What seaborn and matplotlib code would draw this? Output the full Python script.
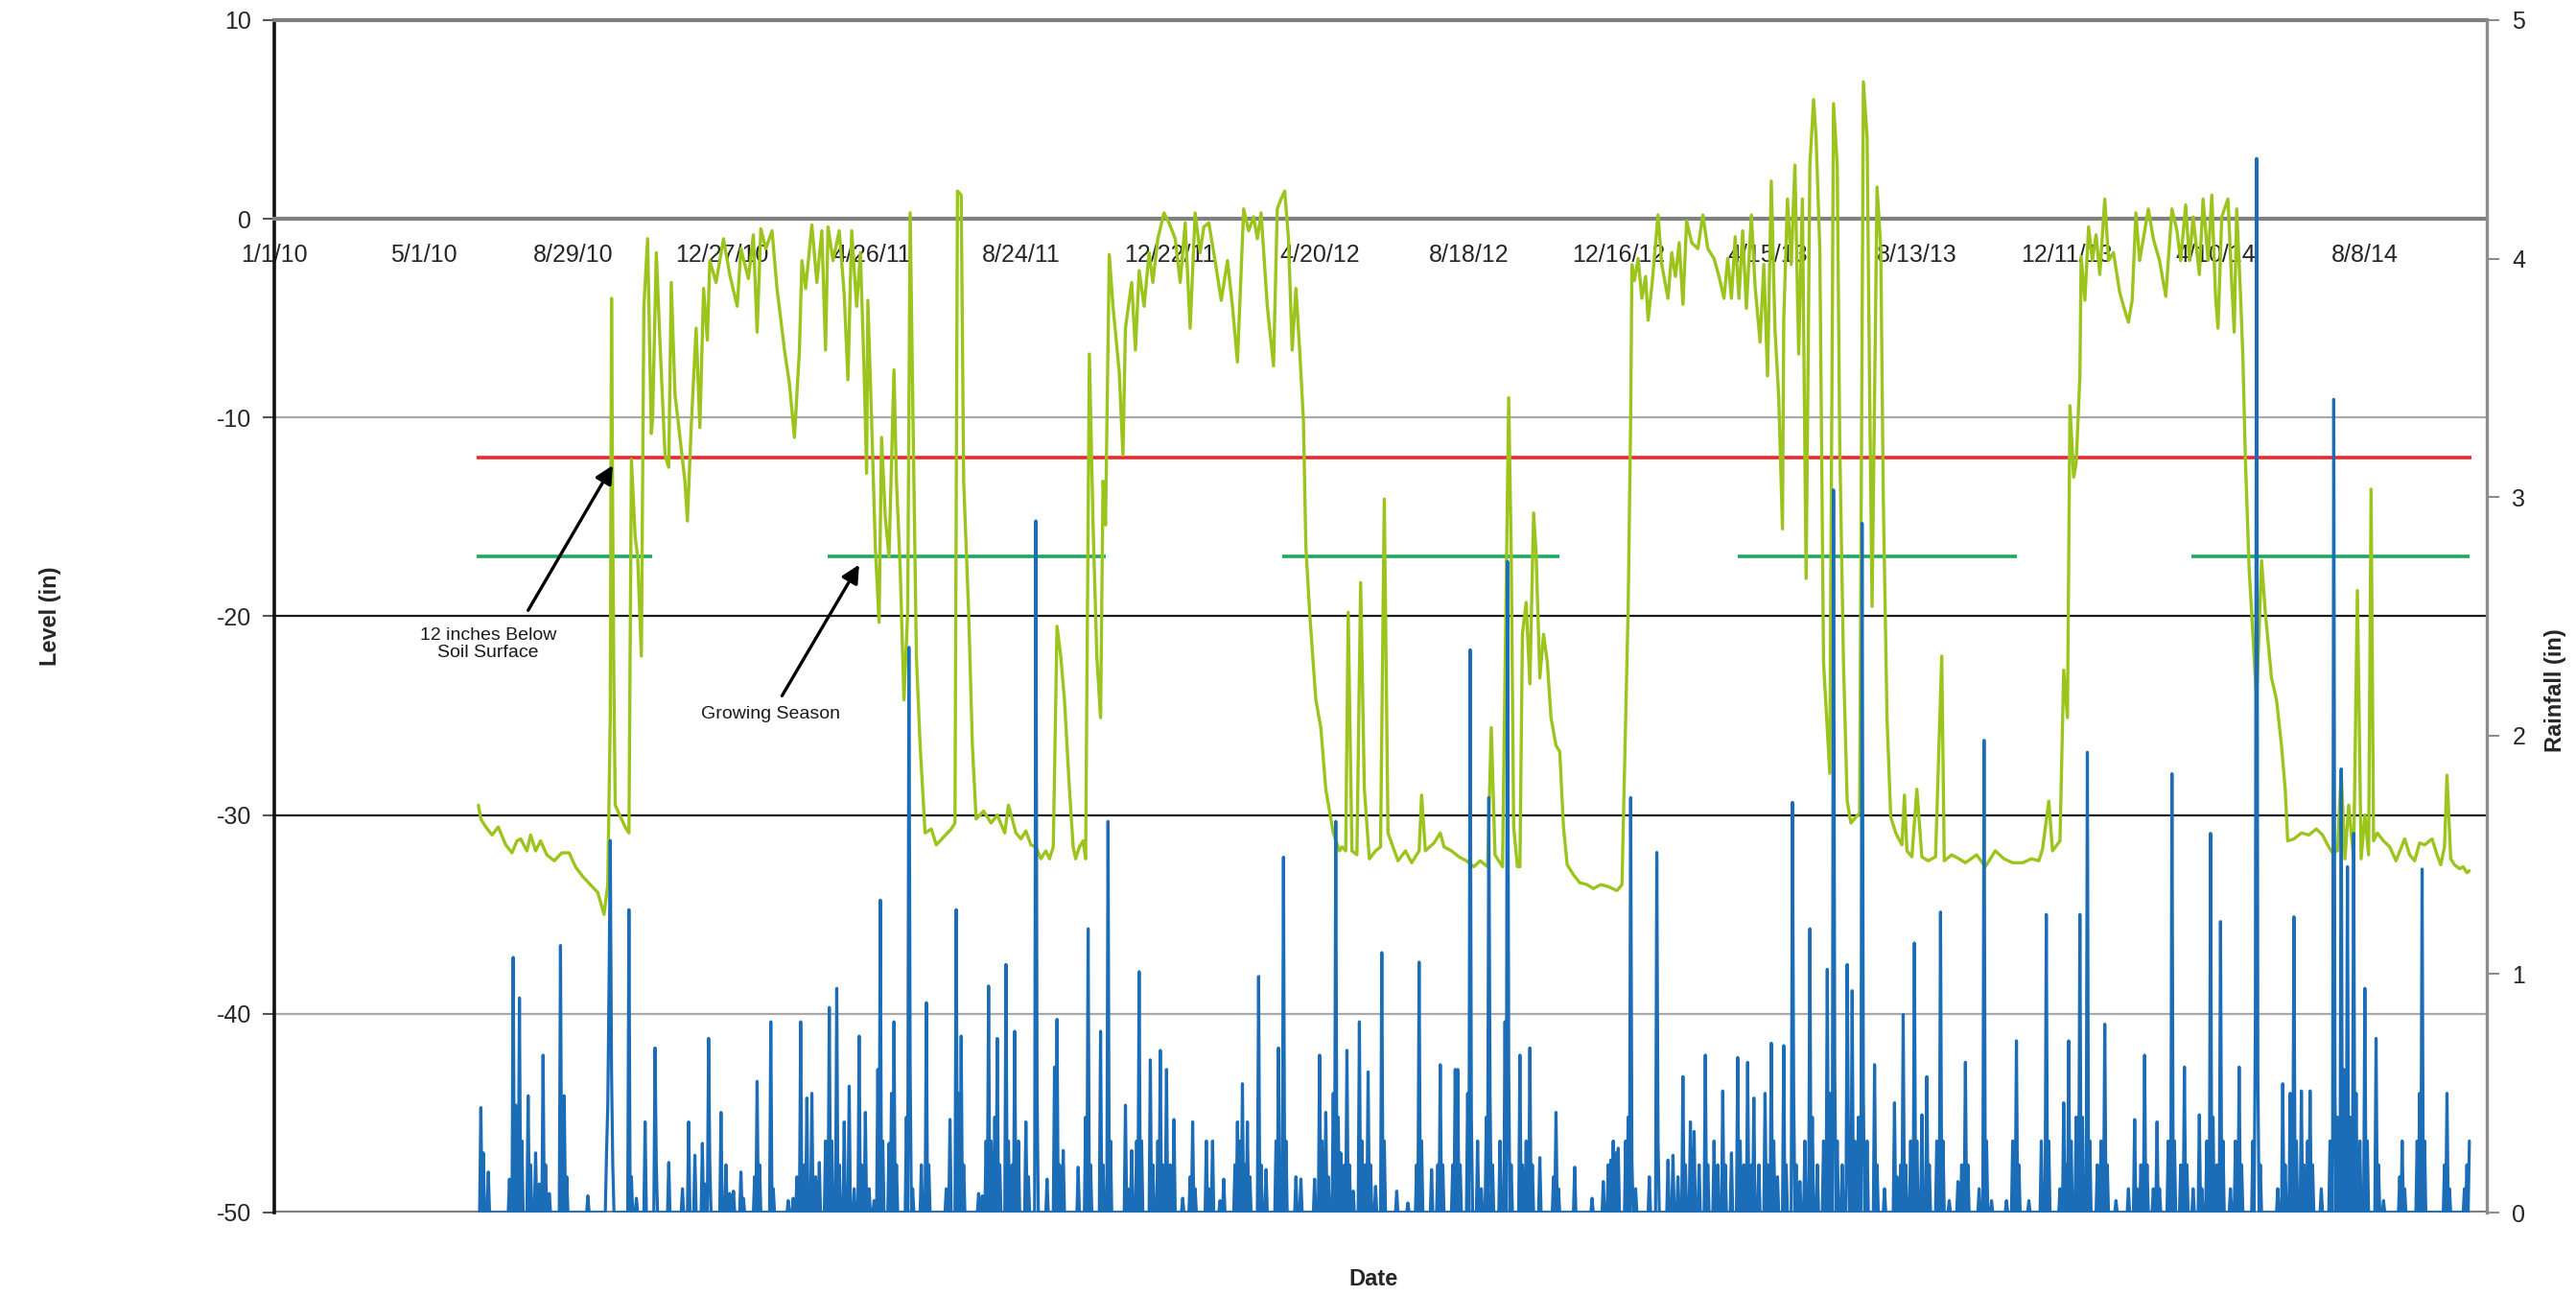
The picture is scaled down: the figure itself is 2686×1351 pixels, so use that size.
import numpy as np
import pandas as pd
import matplotlib
matplotlib.use("Agg")
import matplotlib.pyplot as plt
import seaborn as sns

# ---------------- data ----------------
START = pd.Timestamp("2010-01-01")
X_END = "2014-11-14"

x_tick_labels = ["1/1/10", "5/1/10", "8/29/10", "12/27/10", "4/26/11", "8/24/11",
                 "12/22/11", "4/20/12", "8/18/12", "12/16/12", "4/15/13", "8/13/13",
                 "12/11/13", "4/10/14", "8/8/14"]
level_ticks = [-50, -40, -30, -20, -10, 0, 10]
rain_ticks = [0, 1, 2, 3, 4, 5]

# water level, days since 1/1/10 and inches
level_day = [164, 166, 170, 175, 180, 186, 191, 195, 198, 203, 206, 210, 214, 219, 225, 231, 237, 242, 248, 254,
             260, 265, 268, 270, 271, 272, 273, 274, 279, 282, 285, 287, 290, 292, 295, 297, 300, 303, 304, 307,
             310, 314, 317, 319, 322, 326, 330, 332, 335, 339, 342, 345, 348, 350, 355, 361, 366, 372, 375, 381,
             385, 388, 391, 395, 400, 404, 410, 414, 418, 422, 424, 427, 432, 436, 440, 443,
             445, 449, 454, 458, 461, 464, 468, 471, 474, 476, 477, 480, 483, 486, 488, 491, 494, 498, 500, 503,
             506, 509, 511, 513, 516, 519, 523, 528, 532, 538, 544, 547, 549, 552, 554, 558, 561, 564, 570, 576,
             581, 587, 590, 596, 600, 604, 608, 612, 616, 620, 623, 626, 629, 632, 635, 639, 642, 644, 647, 650,
             652, 655, 658, 661, 664, 666, 668, 671, 674, 679, 682, 684, 689, 692, 695, 699, 703, 706, 710, 715,
             719, 724, 728, 732, 736, 740, 744, 747, 751, 756, 761, 766, 770, 774, 779, 783, 787, 790, 793, 798,
             803, 806, 809, 812, 815, 818, 821, 824, 827, 829, 832, 837, 841, 845, 851, 856, 858, 861, 863, 866,
             870, 873, 876, 880, 885, 889, 892, 895,
             903, 909, 914, 920, 922, 925, 932, 937, 940, 946, 952, 958, 964, 969, 975, 978, 981, 987, 992, 994,
             996, 999, 1001, 1003, 1006, 1009, 1012, 1014, 1017, 1020, 1023, 1026, 1030, 1033, 1036, 1039, 1044,
             1049, 1055, 1060, 1066, 1072, 1079, 1083, 1086, 1088, 1090, 1091,
             1093, 1096, 1099, 1102, 1104, 1107, 1112, 1115, 1120, 1123, 1126, 1129, 1132, 1135, 1139, 1144, 1148,
             1152, 1157, 1161, 1165, 1168, 1171, 1174, 1177, 1180, 1183, 1187, 1190, 1194, 1197, 1200, 1203, 1206,
             1209, 1212, 1213, 1216, 1219, 1222, 1225, 1228, 1231, 1234, 1237, 1239, 1242, 1245, 1250, 1253, 1256,
             1258, 1261, 1264, 1267, 1271, 1274, 1277, 1280, 1282, 1284, 1288, 1291, 1293, 1296, 1299, 1303, 1308,
             1310, 1312, 1316, 1320, 1324, 1329, 1335, 1340, 1342,
             1348, 1354, 1359, 1368, 1375, 1383, 1390, 1397, 1405, 1412, 1418, 1421, 1426, 1429, 1435, 1438, 1441,
             1443, 1446, 1448, 1451, 1452, 1455, 1458, 1461, 1464, 1467, 1471, 1474, 1478, 1483, 1487, 1490, 1493,
             1496, 1499, 1502, 1506, 1510, 1515, 1520, 1525, 1529, 1532, 1536, 1539, 1542, 1547, 1550, 1554, 1557,
             1560, 1562, 1565, 1570, 1573, 1575, 1577, 1580, 1582, 1584, 1587, 1590, 1593, 1597, 1600, 1605, 1609,
             1613, 1616, 1618, 1623, 1629, 1635, 1641, 1646, 1650, 1654, 1658, 1661, 1664, 1667, 1671, 1674, 1677,
             1680, 1683, 1685, 1687, 1690, 1695, 1700, 1705, 1712, 1716, 1720, 1724, 1728, 1734, 1738, 1741, 1744,
             1746, 1749, 1752, 1756, 1759, 1762, 1764]
level_in = [-29.5, -30.2, -30.6, -31.0, -30.6, -31.5, -31.9, -31.3, -31.2, -31.8, -31.0, -31.8, -31.3, -32.0, -32.3,
            -31.9, -31.9, -32.6, -33.1, -33.5, -33.9, -35.0, -33.5, -25.0, -4.0, -15.4, -24.0, -29.5, -30.2, -30.6,
            -30.9, -12.1, -16.0, -17.0, -22.0, -4.4, -1.0, -10.8, -10.1, -1.7, -6.3, -11.9, -12.5, -3.2, -8.8,
            -11.0, -13.2, -15.2, -10.5, -5.5, -10.5, -3.5, -6.1, -2.1, -3.2, -1.0, -2.8, -4.4, -1.5, -3.0, -0.8,
            -5.7, -0.5, -1.5, -0.6, -3.5, -6.6, -8.3, -11.0, -6.6, -2.1, -3.5, -0.3, -3.2, -0.6, -6.6,
            -0.4, -2.1, -0.6, -3.8, -8.1, -0.6, -4.4, -1.7, -7.7, -12.8, -4.1, -10.1, -16.5, -20.3, -11.0, -15.0,
            -17.0, -7.6, -13.2, -17.6, -24.2, -19.8, 0.3, -8.8, -22.0, -26.5, -30.9, -30.7, -31.5, -31.1, -30.7,
            -30.4, 1.4, 1.2, -13.2, -19.8, -26.5, -30.2, -29.8, -30.4, -30.0, -30.9, -29.5, -30.9, -31.2, -30.8,
            -31.5, -31.6, -32.2, -31.8, -32.2, -31.6, -20.5, -22.0, -24.2, -28.7, -31.6, -32.2, -31.6, -31.3,
            -32.2, -6.8, -15.4, -22.0, -25.1, -13.2, -15.4, -1.8, -4.4, -7.7, -11.9, -5.5, -3.2, -6.6, -2.6,
            -4.4, -1.7, -3.2, -1.0, 0.3, -0.2, -1.0, -3.2, -0.2, -5.5, 0.3, -1.7, -0.4, -0.2, -2.1, -4.1, -2.1,
            -4.4, -7.2, 0.5, -0.6, 0.1, -1.0, 0.3, -4.4, -7.4, 0.5, 1.0, 1.4, -1.0, -6.6, -3.5, -6.6, -10.1,
            -16.5, -19.8, -24.2, -25.6, -28.7, -30.9, -31.8, -31.6, -31.8, -19.8, -31.8, -32.0, -18.3, -28.7,
            -32.2, -31.8, -31.6, -14.1, -30.9,
            -32.3, -31.8, -32.4, -31.8, -29.0, -31.8, -31.4, -30.9, -31.6, -31.8, -32.1, -32.3, -32.6, -32.3,
            -32.6, -25.6, -32.0, -32.6, -9.0, -16.8, -30.6, -32.6, -32.6, -20.9, -19.3, -23.4, -14.8, -16.8,
            -23.1, -20.9, -22.3, -25.1, -26.5, -26.8, -30.6, -32.5, -33.0, -33.4, -33.5, -33.7, -33.5, -33.6,
            -33.8, -33.5, -25.1, -19.5, -10.1, -2.3,
            -3.1, -2.0, -4.0, -2.9, -5.1, -3.4, 0.2, -2.3, -4.0, -1.7, -2.9, -1.2, -4.3, -0.1, -1.2, -1.5, 0.2,
            -1.5, -2.0, -2.9, -4.0, -2.0, -4.0, -0.9, -4.0, -0.6, -4.5, 0.2, -3.4, -6.2, -2.3, -7.9, 1.9, -5.6,
            -9.0, -15.6, -5.1, 1.0, -2.3, 2.7, -6.8, 1.0, -18.1, 2.7, 6.0, 4.1, -1.5, -22.3, -27.9, 5.8, 2.7,
            -11.2, -22.3, -29.3, -30.4, -30.1, -29.9, 6.9, 4.1, -8.4, -19.5, 1.6, -1.5, -14.0, -25.1, -30.1,
            -30.9, -31.5, -29.0, -31.8, -32.1, -28.7, -32.1, -32.3, -32.1, -22.0, -32.3,
            -32.0, -32.2, -32.4, -32.0, -32.6, -31.8, -32.2, -32.4, -32.4, -32.2, -32.3, -31.7, -29.3, -31.8,
            -31.3, -22.7, -25.1, -9.4, -13.0, -12.3, -7.9, -1.9, -4.1, -0.4, -2.1, -0.8, -2.8, 1.0, -2.1, -1.7,
            -3.7, -4.6, -5.2, -4.1, 0.3, -2.1, -1.0, 0.5, -1.0, -2.1, -3.9, 0.5, -0.6, -2.1, 0.7, -2.1, 0.1,
            -2.8, 1.0, -2.1, 1.2, -3.9, -5.5, 0.1, 1.0, -3.2, -5.7, 0.5, -3.7, -7.0, -12.1, -17.6, -20.9, -24.2,
            -17.2, -19.8, -23.1, -24.2, -26.5, -28.7, -31.3, -31.2, -30.9, -31.0, -30.7, -31.0, -31.5, -31.9,
            -31.8, -27.8, -32.2, -29.5, -32.2, -18.7, -32.2, -30.0, -32.0, -13.6, -31.3, -30.9, -31.3, -31.6,
            -32.3, -31.2, -32.0, -32.3, -31.4, -31.5, -31.2, -32.0, -32.5, -31.6, -28.0, -32.2, -32.5, -32.7,
            -32.6, -32.9, -32.8]

# daily rainfall, days since 1/1/10 with rain (inches); other days are 0
rain_day = [166, 168, 172, 189, 192, 194, 197, 199, 204, 206, 210, 213, 216, 218, 221, 230, 233, 235, 252, 267,
            268, 269, 270, 271, 272, 285, 287, 291, 298, 306, 307, 317, 328, 333, 338, 344, 346, 349, 350, 359,
            363, 366, 369, 375, 377, 386, 388, 390, 399, 401, 413, 417, 420, 423, 426, 428, 432, 435, 438, 443,
            446, 448, 452, 454, 458, 462, 466, 470, 472, 475, 478, 482, 485, 487, 489, 494, 496, 498, 500, 508,
            510, 511, 513, 520, 524, 526, 540, 543, 548, 550, 552, 554, 566, 569, 572, 574, 576, 579, 581, 583,
            588, 590, 593, 595, 598, 604, 606, 612, 613, 621, 627, 629, 631, 634, 646, 652, 654, 656, 664, 666,
            670, 672, 684, 686, 689, 693, 695, 697, 704, 706, 710, 712, 714, 717, 720, 723, 730, 736, 738, 740,
            749, 751, 754, 760, 763, 772, 774, 776, 778, 780, 782, 784, 791, 793, 797, 805, 807, 809, 811, 813,
            821, 825, 836, 840, 842, 845, 847, 851, 853, 855, 857, 860, 862, 864, 867, 872, 874, 876, 879, 881,
            885, 890, 892, 902, 911, 918, 920, 922, 930, 935, 937, 939, 947, 949, 951, 953, 959, 961, 962, 967,
            970, 974, 976, 977, 979, 985, 989, 991, 992, 994, 1001, 1003, 1006, 1009, 1011, 1017, 1028, 1030,
            1032, 1045, 1059, 1068, 1072, 1074, 1076, 1078, 1080, 1086, 1088, 1090, 1091, 1094, 1105, 1111, 1112,
            1120, 1124, 1128, 1132, 1134, 1138, 1141, 1145, 1150, 1152, 1157, 1160, 1164, 1166, 1171, 1176, 1178,
            1181, 1184, 1187, 1189, 1193, 1198, 1200, 1203, 1205, 1208, 1213, 1215, 1220, 1221, 1223, 1226, 1230,
            1234, 1236, 1240, 1245, 1248, 1250, 1253, 1254, 1256, 1260, 1264, 1265, 1268, 1270, 1273, 1276, 1277,
            1280, 1286, 1288, 1294, 1302, 1304, 1307, 1309, 1311, 1315, 1318, 1320, 1324, 1328, 1330, 1336, 1339,
            1341, 1346, 1353, 1356, 1359, 1361, 1370, 1374, 1376, 1380, 1392, 1397, 1400, 1402, 1410, 1420, 1424,
            1426, 1435, 1438, 1440, 1442, 1444, 1448, 1451, 1453, 1457, 1459, 1465, 1468, 1471, 1473, 1480, 1490,
            1495, 1497, 1500, 1503, 1505, 1510, 1513, 1515, 1522, 1525, 1527, 1532, 1535, 1537, 1542, 1547, 1549,
            1553, 1556, 1558, 1561, 1564, 1566, 1572, 1576, 1579, 1581, 1590, 1592, 1593, 1594, 1596, 1610, 1614,
            1616, 1620, 1623, 1625, 1629, 1631, 1634, 1636, 1638, 1645, 1652, 1655, 1656, 1658, 1661, 1663, 1666,
            1668, 1671, 1673, 1676, 1680, 1682, 1689, 1691, 1695, 1708, 1710, 1712, 1722, 1724, 1726, 1728, 1744,
            1746, 1748, 1760, 1762, 1764]
rain_in = [0.44, 0.25, 0.17, 0.14, 1.07, 0.45, 0.90, 0.30, 0.49, 0.20, 0.25, 0.12, 0.66, 0.20, 0.08, 1.12, 0.49, 0.15,
           0.07, 0.25, 0.45, 0.95, 1.56, 0.60, 0.20, 1.27, 0.15, 0.06, 0.38, 0.69, 0.20, 0.21, 0.10, 0.38, 0.24, 0.29,
           0.12, 0.73, 0.20, 0.42, 0.20, 0.08, 0.09, 0.17, 0.06, 0.15, 0.55, 0.20, 0.80, 0.10, 0.05, 0.06, 0.15, 0.80,
           0.20, 0.48, 0.50, 0.15, 0.21, 0.30, 0.86, 0.30, 0.94, 0.20, 0.38, 0.53, 0.10, 0.74, 0.20, 0.42, 0.10, 0.05,
           0.60, 1.31, 0.30, 0.29, 0.50, 0.80, 0.20, 0.40, 2.37, 0.60, 0.10, 0.20, 0.88, 0.20, 0.10, 0.39, 1.27, 0.50,
           0.74, 0.20, 0.08, 0.07, 0.30, 0.95, 0.30, 0.40, 0.73, 0.20, 1.04, 0.30, 0.20, 0.76, 0.30, 0.38, 0.15, 2.90,
           0.50, 0.14, 0.61, 0.81, 0.20, 0.26, 0.19, 0.40, 1.19, 0.20, 0.76, 0.20, 1.64, 0.30, 0.45, 0.10, 0.26, 0.30,
           1.01, 0.30, 0.64, 0.20, 0.30, 0.68, 0.20, 0.60, 0.20, 0.39, 0.06, 0.15, 0.38, 0.10, 0.30, 0.10, 0.30, 0.05,
           0.14, 0.20, 0.38, 0.30, 0.54, 0.20, 0.38, 0.15, 0.99, 0.20, 0.18, 0.30, 0.69, 0.20, 1.49, 0.30, 0.15, 0.14,
           0.14, 0.66, 0.30, 0.42, 0.15, 0.50, 1.64, 0.40, 0.25, 0.20, 0.68, 0.20, 0.09, 0.80, 0.30, 0.20, 0.59, 0.20,
           0.11, 1.09, 0.30, 0.09, 0.04, 0.20, 1.05, 0.30, 0.18, 0.20, 0.62, 0.20, 0.20, 0.60, 0.60, 0.20, 0.50, 2.36,
           0.40, 0.30, 0.10, 0.40, 1.74, 0.50, 0.20, 0.30, 0.80, 2.73, 0.60, 0.20, 0.66, 0.20, 0.30, 0.69, 0.20, 0.23,
           0.15, 0.42, 0.10, 0.19, 0.06, 0.13, 0.20, 0.22, 0.30, 0.25, 0.27, 0.30, 0.40, 1.74, 0.22, 0.10, 0.15, 1.51,
           0.30, 0.22, 0.24, 0.15, 0.57, 0.20, 0.38, 0.34, 0.20, 0.66, 0.20, 0.30, 0.20, 0.51, 0.20, 0.25, 0.65, 0.30,
           0.20, 0.63, 0.20, 0.48, 0.20, 0.50, 0.20, 0.71, 0.30, 0.15, 0.70, 0.20, 1.72, 0.50, 0.20, 0.13, 0.30, 1.19,
           0.40, 0.20, 0.30, 1.02, 0.50, 3.03, 0.60, 0.30, 0.20, 1.04, 0.30, 0.93, 0.30, 0.40, 2.89, 0.50, 0.30, 0.62,
           0.20, 0.10, 0.46, 0.15, 0.20, 0.83, 0.20, 0.30, 1.13, 0.30, 0.41, 0.57, 0.20, 0.30, 1.26, 0.30, 0.05, 0.13,
           0.20, 0.63, 0.20, 0.10, 1.98, 0.30, 0.05, 0.05, 0.30, 0.72, 0.20, 0.05, 0.30, 1.25, 0.30, 0.10, 0.46, 0.20,
           0.72, 0.30, 0.40, 1.25, 0.40, 1.93, 0.30, 0.20, 0.30, 0.79, 0.20, 0.05, 0.10, 0.39, 0.10, 0.20, 0.66, 0.20,
           0.10, 0.38, 0.10, 0.30, 1.84, 0.30, 0.20, 0.61, 0.20, 0.10, 0.41, 0.10, 0.30, 1.59, 0.40, 0.20, 1.22, 0.30,
           0.10, 0.30, 0.61, 0.20, 0.30, 0.80, 4.42, 0.60, 0.20, 0.10, 0.54, 0.20, 0.50, 1.24, 0.30, 0.51, 0.20, 0.30,
           0.51, 0.20, 0.10, 0.30, 3.41, 0.50, 0.40, 1.86, 0.60, 1.45, 0.40, 1.59, 0.50, 0.30, 0.94, 0.30, 0.73, 0.20,
           0.05, 0.15, 0.30, 0.10, 0.30, 0.50, 1.44, 0.30, 0.20, 0.50, 0.10, 0.10, 0.20, 0.30]

soil_level_in = -12
soil_start, soil_end = "2010-06-13", "2014-11-02"
growing_level_in = -17
growing_start = ["2010-06-13", "2011-03-22", "2012-03-21", "2013-03-22", "2014-03-22"]
growing_end = ["2010-11-01", "2011-10-31", "2012-10-30", "2013-11-01", "2014-10-31"]

# ---------------- frames ----------------
level_df = pd.DataFrame({"date": START + pd.to_timedelta(level_day, unit="D"), "level": level_in})
rain_lookup = dict(zip(rain_day, rain_in))
all_days = list(range(rain_day[0] - 1, rain_day[-1] + 1))
rain_df = pd.DataFrame({"date": START + pd.to_timedelta(all_days, unit="D"),
                        "rain": [rain_lookup.get(d, 0.0) for d in all_days]})
tick_dates = pd.to_datetime(x_tick_labels, format="%m/%d/%y")

# ---------------- style ----------------
sns.set_theme(style="white")
plt.rcParams["font.family"] = ["Liberation Sans", "DejaVu Sans"]

W, H = 2686, 1351
fig = plt.figure(figsize=(W / 100, H / 100), dpi=100)
L, R, T, B = 286, 2593, 21, 1264
ax = fig.add_axes([L / W, 1 - B / H, (R - L) / W, (B - T) / H])
ax2 = ax.twinx()

LEVEL_C = "#9BC41C"
RAIN_C = "#1C6DB8"
RED_C = "#F0262A"
GROW_C = "#1DAA5E"

# reference lines
for y, c, lw in [(-10, "#A8A8A8", 1.6), (-40, "#A8A8A8", 1.6), (-20, "#1A1A1A", 1.6), (-30, "#1A1A1A", 1.6),
                 (-50, "#7F7F7F", 3.0)]:
    ax.axhline(y, color=c, lw=lw, zorder=1)

ax.hlines(soil_level_in, pd.Timestamp(soil_start), pd.Timestamp(soil_end), color=RED_C, lw=2.6, zorder=2)
ax.hlines([growing_level_in] * len(growing_start), pd.to_datetime(growing_start), pd.to_datetime(growing_end),
          color=GROW_C, lw=2.6, zorder=2)

sns.lineplot(data=level_df, x="date", y="level", ax=ax, color=LEVEL_C, lw=2.4, estimator=None, sort=False,
             zorder=3)
sns.lineplot(data=rain_df, x="date", y="rain", ax=ax2, color=RAIN_C, lw=2.3, estimator=None, sort=False, zorder=3)

# axes limits/ticks
ax.set_xlim(START, pd.Timestamp(X_END))
ax.set_ylim(-50, 10)
ax2.set_ylim(0, 5)
ax.set_yticks(level_ticks)
ax.set_yticklabels([str(v) for v in level_ticks])
ax2.set_yticks(rain_ticks)
ax2.set_yticklabels([str(v) for v in rain_ticks])
ax.set_xticks(tick_dates)
ax.set_xticklabels(x_tick_labels)
ax.set_xlabel("")
ax.set_ylabel("")
ax2.set_xlabel("")
ax2.set_ylabel("")
ax.grid(False)
ax2.grid(False)

ax.spines["bottom"].set_position(("data", 0))
ax.spines["bottom"].set_color("#7F7F7F")
ax.spines["bottom"].set_linewidth(3.0)
ax.spines["top"].set_color("#7F7F7F")
ax.spines["top"].set_linewidth(3.0)
ax.spines["left"].set_color("#111111")
ax.spines["left"].set_linewidth(2.6)
ax.spines["right"].set_visible(False)
for s in ["top", "bottom", "left"]:
    ax2.spines[s].set_visible(False)
ax2.spines["right"].set_color("#8C8C8C")
ax2.spines["right"].set_linewidth(2.4)

TXT = "#262626"
ax.tick_params(axis="x", direction="inout", length=9, width=1.5, color="#555555", labelsize=18,
               labelcolor=TXT, pad=14)
ax.tick_params(axis="y", direction="out", length=9, width=1.5, color="#555555", labelsize=18,
               labelcolor=TXT, pad=8)
ax2.tick_params(axis="y", direction="out", length=9, width=1.5, color="#8C8C8C", labelsize=18,
                labelcolor=TXT, pad=10)

# annotations
def day(d):
    return START + pd.Timedelta(days=d)

arrow = dict(arrowstyle="-|>", color="black", lw=2.4, mutation_scale=28, shrinkA=0, shrinkB=0)
ax.annotate("", xy=(day(272), -12.4), xytext=(day(204), -19.7), arrowprops=arrow, zorder=5)
ax.text(day(172), -21.4, "12 inches Below\nSoil Surface", ha="center", va="center", fontsize=14,
        color="#1A1A1A", linespacing=1.15, zorder=5)
ax.annotate("", xy=(day(470), -17.4), xytext=(day(408), -24.0), arrowprops=arrow, zorder=5)
ax.text(day(399), -24.9, "Growing Season", ha="center", va="center", fontsize=14, color="#1A1A1A", zorder=5)

# axis titles
fig.text(52 / W, 1 - 642 / H, "Level (in)", rotation=90, ha="center", va="center", fontsize=17,
         fontweight="bold", color=TXT)
fig.text(2664 / W, 1 - 720 / H, "Rainfall (in)", rotation=90, ha="center", va="center", fontsize=17,
         fontweight="bold", color=TXT)
fig.text(1432 / W, 1 - 1334 / H, "Date", ha="center", va="center", fontsize=17, fontweight="bold", color=TXT)

fig.savefig("out.png", dpi=100, facecolor="white")
